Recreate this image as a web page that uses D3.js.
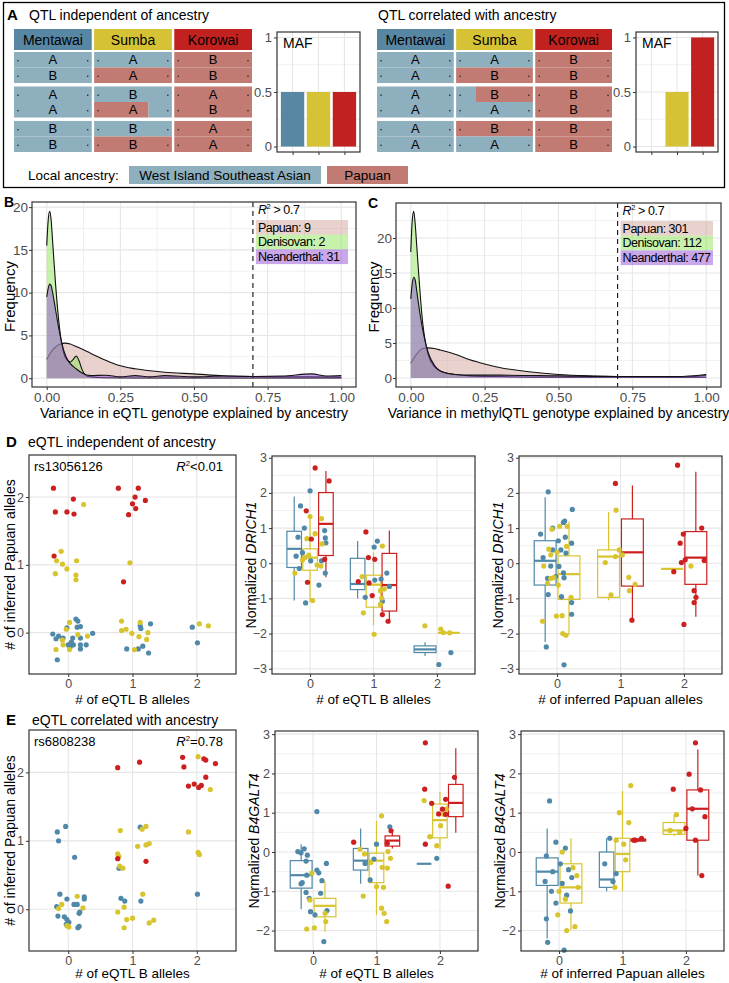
<!DOCTYPE html>
<html>
<head>
<meta charset="utf-8">
<script src="https://cdn.jsdelivr.net/npm/d3@7"></script>
<style>
  body { margin: 0; background: #fff; }
  svg text { font-family: "Liberation Sans", Arial, Helvetica, sans-serif; }
</style>
</head>
<body>
<svg id="fig" width="729" height="983"></svg>
<script>
// ---------------- data ----------------
const pops = ["Mentawai", "Sumba", "Korowai"];

// haplotype strips: [allele, ancestry of left part, ancestry of right part, break fraction]
const indepMentawai = [["A","W","W",1],["B","W","W",1],["A","W","W",1],["A","W","W",1],["B","W","W",1],["B","W","W",1]];
const indepSumba    = [["A","W","W",1],["A","P","P",1],["B","W","W",1],["A","P","W",0.7],["B","W","W",1],["B","P","P",1]];
const indepKorowai  = [["B","P","P",1],["B","P","P",1],["A","P","P",1],["B","P","P",1],["A","P","P",1],["A","P","P",1]];
const corrMentawai  = [["A","W","W",1],["A","W","W",1],["A","W","W",1],["A","W","W",1],["A","W","W",1],["A","W","W",1]];
const corrSumba     = [["A","W","W",1],["B","P","P",1],["B","W","P",0.25],["A","W","W",1],["B","P","P",1],["A","W","W",1]];
const corrKorowai   = [["B","P","P",1],["B","P","P",1],["B","P","P",1],["B","P","P",1],["B","P","P",1],["B","P","P",1]];
const mafIndep = [0.5, 0.5, 0.5];
const mafCorr  = [0, 0.5, 1];

// density curves [x, frequency]
const bPapuan = [[0,2.2],[0.02,3.3],[0.04,3.9],[0.06,4.1],[0.08,4.0],[0.10,3.7],[0.15,2.9],[0.20,2.1],[0.25,1.45],[0.30,1.1],[0.40,0.7],[0.50,0.5],[0.60,0.28],[0.70,0.2],[0.80,0.15],[0.90,0.15],[1.00,0.1]];
const bDenisovan = [[0,15.5],[0.005,18.5],[0.01,19.5],[0.015,18.5],[0.02,16],[0.03,11],[0.04,7],[0.05,4.2],[0.06,2.7],[0.07,2.1],[0.08,1.9],[0.09,2.2],[0.10,2.6],[0.11,2.0],[0.12,1.0],[0.14,0.2],[0.2,0.05],[0.3,0.03],[0.5,0.03],[0.7,0.03],[1.0,0.03]];
const bNeanderthal = [[0,9.5],[0.005,10.5],[0.01,11],[0.015,10.8],[0.02,10],[0.03,8],[0.04,6],[0.05,4.3],[0.06,3.0],[0.07,2.2],[0.08,1.7],[0.10,1.1],[0.12,0.6],[0.15,0.3],[0.2,0.35],[0.25,0.15],[0.3,0.3],[0.35,0.15],[0.4,0.3],[0.5,0.15],[0.6,0.25],[0.7,0.2],[0.8,0.25],[0.9,0.5],[0.95,0.25],[1.0,0.3]];
const cPapuan = [[0,2.1],[0.02,3.4],[0.04,4.2],[0.06,4.3],[0.08,4.2],[0.10,4.0],[0.15,3.4],[0.20,2.6],[0.25,2.0],[0.30,1.5],[0.40,0.9],[0.50,0.5],[0.60,0.3],[0.70,0.2],[0.80,0.15],[0.90,0.1],[1.00,0.4]];
const cDenisovan = [[0,18],[0.005,22.5],[0.01,23.8],[0.015,22],[0.02,19],[0.03,13],[0.04,8],[0.05,5],[0.06,3.2],[0.08,1.6],[0.10,1.0],[0.15,0.5],[0.2,0.3],[0.3,0.2],[0.5,0.1],[0.7,0.1],[1.0,0.1]];
const cNeanderthal = [[0,11.3],[0.005,13.5],[0.01,14.4],[0.015,14],[0.02,12.5],[0.03,9.5],[0.04,7],[0.05,5],[0.06,3.5],[0.08,1.8],[0.10,1.0],[0.15,0.5],[0.2,0.4],[0.3,0.4],[0.5,0.3],[0.7,0.2],[0.9,0.2],[1.0,0.5]];
const bCounts = [["Papuan", 9], ["Denisovan", 2], ["Neanderthal", 31]];
const cCounts = [["Papuan", 301], ["Denisovan", 112], ["Neanderthal", 477]];

// D: eQTL independent of ancestry (rs13056126)  [jittered x, y]
const d1Mentawai = [[-0.24,-0.02],[-0.19,-0.09],[-0.15,-0.05],[-0.08,-0.08],[-0.09,-0.1],[-0.17,-0.4],[0.0,-0.18],[0.05,-0.14],[0.03,-0.21],[0.07,-0.08],[0.12,0.2],[0.15,0.17],[0.14,0.08],[0.19,0.09],[0.19,-0.08],[0.19,-0.18],[0.19,-0.24],[0.28,-0.18],[0.38,-0.01],[-0.02,0.07],[0.08,-0.18],[1.12,0.1],[1.13,0.06],[1.28,0.13],[0.91,-0.24],[1.09,-0.24],[1.16,-0.2],[1.25,-0.3],[1.93,0.08],[2.01,-0.15]];
const d1Sumba = [[0.24,1.89],[-0.11,1.2],[-0.18,1.06],[-0.09,1.01],[-0.02,0.94],[-0.2,0.87],[0.13,1.06],[0.12,0.85],[0.12,0.78],[0.96,1.03],[0.02,0.15],[-0.03,0.05],[-0.09,-0.11],[-0.08,-0.18],[-0.19,-0.25],[0.02,-0.25],[0.15,-0.03],[0.3,-0.05],[0.83,0.17],[0.83,0.03],[0.9,0.05],[0.99,-0.01],[1.1,-0.06],[1.22,-0.1],[1.24,0.0],[1.03,-0.25],[1.12,0.15],[2.04,0.13],[2.18,0.1]];
const d1Korowai = [[-0.23,2.13],[-0.2,1.78],[0.08,1.97],[-0.02,1.78],[0.09,1.75],[-0.22,1.13],[0.78,2.13],[1.09,2.13],[1.04,2.0],[1.2,1.95],[1.0,1.9],[1.05,1.83],[0.94,1.74],[0.86,0.75]];

const d2Mentawai = [[0.0,2.06],[-0.15,1.63],[-0.09,1.0],[-0.19,0.74],[-0.22,0.2],[-0.12,0.3],[0.01,0.07],[-0.17,-0.15],[0.23,0.93],[0.24,0.72],[0.25,0.58],[0.18,0.07],[0.24,-0.28],[0.14,-0.62],[-0.07,-1.13],[1.06,0.63],[1.01,0.46],[1.02,-0.48],[1.12,-0.45],[1.21,-0.28],[1.25,-0.66],[0.87,-0.97],[1.14,-1.08],[2.22,-2.54],[2.03,-2.88]];
const d2Sumba = [[-0.24,-0.28],[-0.05,0.7],[0.0,1.33],[0.08,0.84],[0.18,1.27],[0.19,0.55],[-0.12,0.09],[-0.08,0.16],[-0.02,0.23],[0.11,-0.05],[0.17,-0.08],[0.04,-1.06],[0.82,-0.38],[1.14,0.49],[1.11,-0.78],[1.17,-0.73],[0.84,-1.41],[1.01,-2.02],[1.13,-0.99],[1.11,-1.17],[1.81,-1.78],[2.06,-1.87],[2.1,-1.97],[2.2,-1.98]];
const d2Korowai = [[0.08,2.71],[0.3,2.34],[-0.06,1.49],[0.02,0.69],[-0.04,-0.54],[0.23,0.11],[0.88,0.89],[0.92,0.16],[1.02,0.11],[0.76,-0.52],[0.93,-0.56],[1.14,-1.46],[1.23,-1.65],[0.98,-0.92]];
// [genotype, population, lower whisker, Q1, median, Q3, upper whisker]
const d2Boxes = [
  [0,"Mentawai",-1.06,-0.12,0.41,0.91,1.9],
  [0,"Sumba",-1.1,-0.2,0.16,0.41,1.3],
  [0,"Korowai",-0.4,0.22,1.12,2.01,2.62],
  [1,"Mentawai",-1.0,-0.75,-0.59,0.14,0.63],
  [1,"Sumba",-1.77,-1.25,-0.61,-0.34,0.31],
  [1,"Korowai",-1.63,-1.36,-0.62,0.28,0.93],
  [2,"Mentawai",-2.64,-2.54,-2.45,-2.35,-2.25],
  [2,"Sumba",-1.98,-1.98,-1.98,-1.98,-1.98]
];

const d3Mentawai = [[-0.14,2.03],[0.24,1.53],[0.12,1.2],[0.1,1.16],[-0.26,0.83],[-0.07,1.0],[0.02,0.64],[0.13,0.74],[0.23,0.57],[0.06,0.38],[-0.07,0.38],[-0.22,0.16],[-0.1,-0.08],[0.03,-0.09],[0.1,-0.27],[-0.15,-0.43],[-0.02,-0.38],[0.11,-0.41],[0.14,0.29],[-0.14,-0.89],[0.07,-0.95],[0.23,-1.12],[0.23,-1.45],[-0.17,-2.38],[0.11,-2.89]];
const d3Sumba = [[-0.08,0.97],[0.04,1.05],[0.16,1.05],[-0.13,0.4],[-0.1,0.24],[0.0,0.31],[0.15,0.48],[-0.21,-0.08],[-0.1,-0.43],[-0.05,-0.41],[0.02,-0.62],[-0.15,-0.57],[-0.23,-1.65],[-0.01,-1.5],[0.08,-1.49],[0.09,-2.0],[0.14,-2.05],[0.22,-0.97],[0.93,1.51],[0.98,0.38],[1.03,0.24],[0.92,0.19],[0.76,0.02],[1.13,-0.4],[1.23,-0.6],[1.14,-0.78],[0.85,-0.9],[2.11,-0.08]];
const d3Korowai = [[0.92,2.27],[1.18,-1.62],[1.9,2.79],[1.99,0.83],[2.28,1.0],[1.94,0.57],[1.96,0.02],[2.02,0.1],[2.32,0.08],[1.84,-0.24],[2.16,-0.78],[2.0,-1.74],[2.16,-1.12],[2.19,-0.97]];
const d3Boxes = [
  [0,"Mentawai",-2.24,-0.62,0.07,0.64,1.88],
  [0,"Sumba",-2.05,-1.03,-0.31,0.21,1.19],
  [1,"Sumba",-1.05,-0.97,0.19,0.38,1.46],
  [1,"Korowai",-1.62,-0.65,0.31,1.26,2.21],
  [2,"Sumba",-0.16,-0.16,-0.16,-0.16,-0.16],
  [2,"Korowai",-1.52,-0.6,0.16,0.9,2.6]
];

// E: eQTL correlated with ancestry (rs6808238)
const e1Mentawai = [[-0.17,1.13],[-0.15,1.0],[-0.04,1.21],[0.1,0.76],[-0.13,0.22],[-0.02,0.15],[0.25,0.18],[0.25,0.15],[0.09,0.07],[0.14,0.07],[-0.18,0.04],[0.18,-0.04],[0.17,-0.06],[-0.16,-0.1],[-0.06,-0.11],[-0.02,-0.15],[0.01,-0.19],[-0.03,-0.22],[0.17,-0.25],[0.15,-0.27],[0.79,0.6],[1.12,1.2],[0.82,0.16],[0.88,0.12],[1.13,0.12],[2.01,0.22]];
const e1Sumba = [[0.14,0.19],[-0.1,0.07],[-0.15,0.01],[0.23,0.02],[-0.02,-0.24],[0.01,-0.26],[0.81,1.15],[0.77,0.81],[0.79,0.77],[0.8,0.63],[0.85,0.6],[1.15,1.17],[1.21,1.21],[1.21,0.94],[1.26,0.96],[1.08,0.92],[1.16,0.22],[0.87,0.03],[0.77,-0.04],[0.91,-0.15],[1.0,-0.13],[1.33,-0.16],[1.26,-0.2],[0.87,-0.27],[2.02,2.23],[2.21,1.75],[1.87,1.13],[2.02,0.83],[2.04,0.8]];
const e1Korowai = [[0.77,2.07],[1.11,2.15],[1.78,2.22],[1.8,2.08],[2.11,2.2],[2.14,2.18],[2.29,2.13],[2.14,1.93],[1.96,1.83],[1.87,1.8],[2.03,1.78],[2.07,1.81],[0.77,0.74],[1.21,0.7]];

const e2Mentawai = [[-0.24,0.01],[-0.19,-0.02],[-0.14,0.08],[-0.11,-0.23],[-0.09,-0.08],[0.06,1.03],[0.21,-0.29],[0.06,-0.46],[0.09,-0.53],[0.14,-0.73],[-0.1,-0.59],[-0.17,-0.78],[-0.19,-0.81],[-0.11,-1.03],[-0.06,-1.18],[0.12,-1.05],[-0.04,-1.52],[0.03,-1.6],[0.17,-2.28],[0.22,-1.49],[1.0,0.2],[0.82,-0.29],[0.9,-0.71],[0.96,-0.18],[1.21,0.64],[1.95,-0.16]];
const e2Sumba = [[-0.02,-0.54],[-0.05,-1.22],[-0.1,-1.96],[0.02,-1.93],[0.2,-1.77],[0.19,-1.56],[0.74,0.07],[0.81,-0.05],[1.08,0.92],[0.91,-0.27],[1.0,-0.88],[1.11,-0.9],[1.09,-0.39],[1.17,-0.41],[1.18,0.01],[1.08,-1.43],[1.12,-1.56],[1.16,-1.77],[0.79,-1.12],[1.22,-0.16],[1.75,1.31],[1.84,0.39],[1.95,0.16],[2.01,0.67],[2.06,0.96],[2.1,1.09]];
const e2Korowai = [[0.64,0.25],[1.23,0.54],[1.17,0.22],[1.76,1.6],[1.87,1.24],[1.77,0.2],[1.98,0.97],[2.04,1.09],[2.09,0.96],[2.09,1.34],[2.13,-0.87],[1.77,2.78],[2.23,1.9]];
const e2Boxes = [
  [0,"Mentawai",-1.46,-0.92,-0.59,-0.22,0.2],
  [0,"Sumba",-2.03,-1.65,-1.37,-1.18,-0.74],
  [1,"Mentawai",-0.81,-0.46,-0.22,0.09,0.6],
  [1,"Sumba",-1.6,-0.78,-0.22,-0.03,0.79],
  [1,"Korowai",0.09,0.15,0.29,0.41,0.56],
  [2,"Mentawai",-0.3,-0.3,-0.3,-0.3,-0.3],
  [2,"Sumba",0.07,0.36,0.81,1.22,1.53],
  [2,"Korowai",0.49,0.9,1.25,1.72,2.64]
];

const e3Mentawai = [[-0.15,1.3],[-0.05,0.25],[0.1,0.1],[-0.2,-0.1],[0.02,-0.3],[-0.1,-0.5],[0.15,-0.45],[-0.22,-0.75],[0.05,-0.8],[0.2,-0.65],[-0.12,-1.0],[0.12,-1.1],[-0.05,-1.3],[0.18,-1.5],[-0.2,-1.7],[-0.18,-2.3],[0.08,-2.5],[0.8,0.35],[0.72,-0.3],[0.85,-0.75],[0.9,-0.55]];
const e3Sumba = [[0.05,0.0],[0.22,-0.4],[0.3,-0.9],[0.1,-1.2],[-0.02,-1.6],[0.25,-1.9],[0.12,-2.0],[0.28,-0.6],[0.0,-1.0],[0.95,1.0],[0.9,0.3],[1.05,-0.2],[1.1,0.75],[0.88,-0.9],[1.13,1.69],[1.02,0.2],[1.75,0.55],[1.85,0.95],[1.9,0.5]];
const e3Korowai = [[1.2,0.3],[1.3,0.35],[1.18,0.3],[1.8,1.6],[2.05,1.98],[2.15,2.78],[2.23,1.58],[2.1,1.1],[2.3,0.9],[2.0,0.6],[2.15,0.3],[2.25,-0.6]];
const e3Boxes = [
  [0,"Mentawai",-2.2,-0.85,-0.5,-0.15,0.6],
  [0,"Sumba",-2.0,-1.3,-0.9,-0.3,0.35],
  [1,"Mentawai",-1.0,-0.9,-0.7,0.0,0.35],
  [1,"Sumba",-1.0,-0.5,-0.05,0.35,1.55],
  [1,"Korowai",0.27,0.28,0.3,0.33,0.35],
  [2,"Sumba",0.4,0.45,0.55,0.75,0.95],
  [2,"Korowai",-0.6,0.3,1.1,1.58,2.61]
];

// ---------------- styles ----------------
const headerColor = { Mentawai: "#5787a3", Sumba: "#d5c335", Korowai: "#c1221f" };
const dotColor = { Mentawai: "#4f88a8", Sumba: "#d8c42e", Korowai: "#cc1f1f" };
const ancColor = { W: "#8eafbe", P: "#c27b72" };
const archaicColor = { Papuan: "#d3a39c", Denisovan: "#8ee659", Neanderthal: "#9350d5" };
const gridCol = "#e6e6e6";
const tickCol = "#4d4d4d";

const svg = d3.select("#fig");

// ---------------- helpers ----------------
function scales(box, xDom, yDom) {
  return {
    x: d3.scaleLinear().domain(xDom).range([box.l, box.r]),
    y: d3.scaleLinear().domain(yDom).range([box.b, box.t])
  };
}

function grid(box, x, y, xs, ys, w) {
  const g = svg.append("g");
  g.selectAll(".gx").data(xs).join("line")
    .attr("x1", d => x(d)).attr("x2", d => x(d))
    .attr("y1", box.t).attr("y2", box.b)
    .attr("stroke", gridCol).attr("stroke-width", w);
  g.selectAll(".gy").data(ys).join("line")
    .attr("x1", box.l).attr("x2", box.r)
    .attr("y1", d => y(d)).attr("y2", d => y(d))
    .attr("stroke", gridCol).attr("stroke-width", w);
}

function axes(box, x, y, xTicks, yTicks, xFmt, yFmt, size, pad = 2) {
  if (xTicks) {
    const ax = svg.append("g").attr("transform", `translate(0,${box.b})`)
      .call(d3.axisBottom(x).tickValues(xTicks).tickSize(3).tickPadding(2).tickFormat(xFmt));
    ax.select(".domain").remove();
    ax.selectAll("line").attr("stroke", "#333");
    ax.selectAll("text").attr("fill", tickCol).attr("font-size", size).attr("font-family", null);
  }
  const ay = svg.append("g").attr("transform", `translate(${box.l},0)`)
    .call(d3.axisLeft(y).tickValues(yTicks).tickSize(3).tickPadding(pad).tickFormat(yFmt));
  ay.select(".domain").remove();
  ay.selectAll("line").attr("stroke", "#333");
  ay.selectAll("text").attr("fill", tickCol).attr("font-size", size).attr("font-family", null);
}

function frame(box) {
  svg.append("rect")
    .attr("x", box.l).attr("y", box.t)
    .attr("width", box.r - box.l).attr("height", box.b - box.t)
    .attr("fill", "none").attr("stroke", "#333").attr("stroke-width", 1.2);
}

function label(x, y, txt, size, opts = {}) {
  const t = svg.append("text").attr("x", x).attr("y", y)
    .attr("font-size", size).attr("fill", opts.fill || "#000")
    .attr("text-anchor", opts.anchor || "start")
    .text(txt);
  if (opts.bold) t.attr("font-weight", "bold");
  return t;
}

function yTitle(x, yc, parts, size) {
  const t = svg.append("text")
    .attr("transform", `translate(${x},${yc}) rotate(-90)`)
    .attr("text-anchor", "middle").attr("font-size", size).attr("fill", "#000");
  parts.forEach(p => t.append("tspan").attr("font-style", p[1] ? "italic" : null).text(p[0]));
}

function r2Text(x, y, rest, size, anchor) {
  const t = svg.append("text").attr("x", x).attr("y", y)
    .attr("font-size", size).attr("text-anchor", anchor || "start");
  t.append("tspan").attr("font-style", "italic").text("R");
  t.append("tspan").attr("font-size", size * 0.6).attr("dy", -5).text("2");
  t.append("tspan").attr("dy", 5).text(rest);
  return t;
}

// ---------------- panel A ----------------
svg.append("rect").attr("x", 3.5).attr("y", 2.5).attr("width", 721).attr("height", 185)
  .attr("fill", "none").attr("stroke", "#000").attr("stroke-width", 1.3);
label(7, 20, "A", 15, { bold: true });

function haplotypes(x0, x1, titleX, title, strips, maf, mafL, mafR) {
  label(titleX, 20, title, 14);
  const col = d3.scaleBand().domain(pops).range([x0, x1]).paddingInner(0.03);
  const ind = d3.scaleBand().domain([0, 1, 2]).range([52, 152]).paddingInner(0.1);
  pops.forEach((p, pi) => {
    svg.append("rect").attr("x", col(p)).attr("y", 29)
      .attr("width", col.bandwidth()).attr("height", 21).attr("fill", headerColor[p]);
    label(col(p) + col.bandwidth() / 2, 44.5, p, 14, { anchor: "middle" });
    strips[pi].forEach((s, si) => {
      const i = Math.floor(si / 2), h = si % 2;
      const sh = ind.bandwidth() / 2;
      const yy = ind(i) + h * sh;
      const xx = col(p), w = col.bandwidth();
      svg.append("rect").attr("x", xx).attr("y", yy).attr("width", w * s[3]).attr("height", sh)
        .attr("fill", ancColor[s[1]]);
      if (s[3] < 1) {
        svg.append("rect").attr("x", xx + w * s[3]).attr("y", yy).attr("width", w * (1 - s[3])).attr("height", sh)
          .attr("fill", ancColor[s[2]]);
      }
      label(xx + w / 2, yy + sh / 2 + 4.5, s[0], 13, { anchor: "middle" });
      [xx + 4, xx + w - 4].forEach(cx => svg.append("circle").attr("cx", cx).attr("cy", yy + sh / 2 + 1)
        .attr("r", 0.8).attr("fill", "#222"));
    });
  });
  // MAF bar plot
  const box = { l: mafL, r: mafR, t: 32, b: 152 };
  const s = scales(box, [0.4, 3.6], [-0.05, 1.05]);
  grid(box, s.x, s.y, [], [0.25, 0.75], 0.6);
  grid(box, s.x, s.y, [1, 2, 3], [0, 0.5, 1], 1.1);
  svg.append("g").selectAll("rect").data(maf).join("rect")
    .attr("x", (d, i) => s.x(i + 1 - 0.45))
    .attr("width", s.x(1.9) - s.x(1))
    .attr("y", d => s.y(d))
    .attr("height", d => s.y(0) - s.y(d))
    .attr("fill", (d, i) => headerColor[pops[i]]);
  axes(box, s.x, s.y, [1, 2, 3], [0, 0.5, 1], () => "", d => d === 0.5 ? "0.5" : d3.format("d")(d), 13);
  frame(box);
  label(mafL + 6, 48, "MAF", 14);
}

haplotypes(14, 252, 29, "QTL independent of ancestry", [indepMentawai, indepSumba, indepKorowai], mafIndep, 277, 360);
haplotypes(377, 612, 378, "QTL correlated with ancestry", [corrMentawai, corrSumba, corrKorowai], mafCorr, 636, 718);

// local ancestry legend
label(28, 180, "Local ancestry:", 13.5);
[["W", "West Island Southeast Asian", 129, 321], ["P", "Papuan", 327, 408]].forEach(l => {
  svg.append("rect").attr("x", l[2]).attr("y", 166).attr("width", l[3] - l[2]).attr("height", 18)
    .attr("fill", ancColor[l[0]]);
  label((l[2] + l[3]) / 2, 180, l[1], 13.5, { anchor: "middle" });
});

// ---------------- panels B and C ----------------
function densityPanel(letter, box, yDom, curves, counts, xTitle) {
  const s = scales(box, [-0.05, 1.05], yDom);
  const xMinor = [0.125, 0.375, 0.625, 0.875];
  const yMinor = [2.5, 7.5, 12.5, 17.5, 22.5].filter(v => v < yDom[1]);
  grid(box, s.x, s.y, xMinor, yMinor, 0.6);
  grid(box, s.x, s.y, [0, 0.25, 0.5, 0.75, 1], [0, 5, 10, 15, 20], 1.1);
  const area = d3.area().x(d => s.x(d[0])).y0(s.y(0)).y1(d => s.y(d[1])).curve(d3.curveMonotoneX);
  const line = d3.line().x(d => s.x(d[0])).y(d => s.y(d[1])).curve(d3.curveMonotoneX);
  curves.forEach(c => {
    svg.append("path").datum(c[1]).attr("d", area)
      .attr("fill", archaicColor[c[0]]).attr("fill-opacity", 0.5);
    svg.append("path").datum(c[1]).attr("d", line)
      .attr("fill", "none").attr("stroke", "#111").attr("stroke-width", 1.1);
  });
  svg.append("line").attr("x1", s.x(0.7)).attr("x2", s.x(0.7))
    .attr("y1", box.t).attr("y2", box.b)
    .attr("stroke", "#222").attr("stroke-width", 1.2).attr("stroke-dasharray", "5,4");
  const lx = s.x(0.7) + 3;
  r2Text(lx + 2, box.t + 12, " > 0.7", 12.5).attr("letter-spacing", -0.4);
  counts.forEach((c, i) => {
    svg.append("rect").attr("x", lx).attr("y", box.t + 18 + i * 14.7)
      .attr("width", box.r - 8 - lx).attr("height", 14.7)
      .attr("fill", archaicColor[c[0]]).attr("fill-opacity", 0.5);
    label(lx + 2, box.t + 29.5 + i * 14.7, `${c[0]}: ${c[1]}`, 12.5).attr("letter-spacing", -0.5);
  });
  axes(box, s.x, s.y, [0, 0.25, 0.5, 0.75, 1], [0, 5, 10, 15, 20], d3.format(".2f"), d3.format("d"), 13.5, 1);
  frame(box);
  label(box.l - 28, box.t + 5, letter, 14, { bold: true });
  yTitle(box.l - 17, (box.t + box.b) / 2 + 2, [["Frequency", false]], 15);
  label((box.l + box.r) / 2, box.b + 31, xTitle, 14, { anchor: "middle" });
}

densityPanel("B", { l: 32, r: 356, t: 202, b: 387 }, [-1.03, 20.6],
  [["Papuan", bPapuan], ["Denisovan", bDenisovan], ["Neanderthal", bNeanderthal]], bCounts,
  "Variance in eQTL genotype explained by ancestry");
densityPanel("C", { l: 396, r: 721, t: 203, b: 387 }, [-1.29, 25],
  [["Papuan", cPapuan], ["Denisovan", cDenisovan], ["Neanderthal", cNeanderthal]], cCounts,
  "Variance in methylQTL genotype explained by ancestry");

// ---------------- panels D and E ----------------
function dots(s, sets) {
  pops.forEach((p, i) => {
    svg.append("g").selectAll("circle").data(sets[i]).join("circle")
      .attr("cx", d => s.x(d[0])).attr("cy", d => s.y(d[1]))
      .attr("r", 2.6).attr("fill", dotColor[p]);
  });
}

function boxes(s, stats) {
  const byGeno = d3.group(stats, d => d[0]);
  const g = svg.append("g").attr("fill", "none");
  stats.forEach(d => {
    const members = byGeno.get(d[0]);
    const n = members.length, i = members.indexOf(d);
    const slot = 0.75 / n;
    const c = d[0] - 0.375 + slot * (i + 0.5);
    const hw = slot * 0.46;
    const col = dotColor[d[1]];
    g.append("line").attr("x1", s.x(c)).attr("x2", s.x(c)).attr("y1", s.y(d[2])).attr("y2", s.y(d[3]))
      .attr("stroke", col).attr("stroke-width", 1.2);
    g.append("line").attr("x1", s.x(c)).attr("x2", s.x(c)).attr("y1", s.y(d[5])).attr("y2", s.y(d[6]))
      .attr("stroke", col).attr("stroke-width", 1.2);
    g.append("rect").attr("x", s.x(c - hw)).attr("width", s.x(c + hw) - s.x(c - hw))
      .attr("y", s.y(d[5])).attr("height", Math.max(0, s.y(d[3]) - s.y(d[5])))
      .attr("stroke", col).attr("stroke-width", 1.2);
    g.append("line").attr("x1", s.x(c - hw)).attr("x2", s.x(c + hw)).attr("y1", s.y(d[4])).attr("y2", s.y(d[4]))
      .attr("stroke", col).attr("stroke-width", 2.2);
  });
}

function scatterPanel(box, sets, snp, r2, xTitle, titleGap) {
  const s = scales(box, [-0.61, 2.61], [-0.61, 2.62]);
  grid(box, s.x, s.y, [0, 1, 2], [0, 1, 2], 1.1);
  dots(s, sets);
  axes(box, s.x, s.y, [0, 1, 2], [0, 1, 2], d3.format("d"), d3.format("d"), 12.5);
  frame(box);
  label(box.l + 5, box.t + 16, snp, 13);
  r2Text(box.r - 13, box.t + 16, r2, 13, "end");
  yTitle(box.l - 14, (box.t + box.b) / 2, [["# of inferred Papuan alleles", false]], 14);
  label((box.l + box.r) / 2, box.b + titleGap, xTitle, 13.5, { anchor: "middle" });
}

function boxPanel(box, yDom, stats, sets, gene, xTitle, titleGap) {
  const s = scales(box, [-0.6, 2.6], yDom);
  const yMajor = d3.range(Math.ceil(yDom[0]), Math.floor(yDom[1]) + 1);
  const yMinor = yMajor.map(v => v + 0.5).concat([yMajor[0] - 0.5]).filter(v => v > yDom[0] && v < yDom[1]);
  grid(box, s.x, s.y, [], yMinor, 0.6);
  grid(box, s.x, s.y, [0, 1, 2], yMajor, 1.1);
  boxes(s, stats);
  dots(s, sets);
  axes(box, s.x, s.y, [0, 1, 2], yMajor, d3.format("d"), d3.format("d"), 12.5);
  frame(box);
  yTitle(box.l - 16, (box.t + box.b) / 2, [["Normalized ", false], [gene, true]], 14);
  label((box.l + box.r) / 2, box.b + titleGap, xTitle, 13.5, { anchor: "middle" });
}

// D
label(6, 447, "D", 15, { bold: true });
label(28, 447, "eQTL independent of ancestry", 14);
scatterPanel({ l: 29, r: 236, t: 455, b: 674 }, [d1Mentawai, d1Sumba, d1Korowai], "rs13056126", "<0.01", "# of eQTL B alleles", 30);
boxPanel({ l: 272, r: 475, t: 456, b: 674 }, [-3.15, 3.05], d2Boxes, [d2Mentawai, d2Sumba, d2Korowai], "DRICH1", "# of eQTL B alleles", 30);
boxPanel({ l: 519, r: 722, t: 456, b: 674 }, [-3.15, 3.05], d3Boxes, [d3Mentawai, d3Sumba, d3Korowai], "DRICH1", "# of inferred Papuan alleles", 30);

// E
label(6, 725, "E", 15, { bold: true });
label(32, 725, "eQTL correlated with ancestry", 14);
scatterPanel({ l: 29, r: 236, t: 730, b: 951 }, [e1Mentawai, e1Sumba, e1Korowai], "rs6808238", "=0.78", "# of eQTL B alleles", 27);
boxPanel({ l: 275, r: 478, t: 731, b: 951 }, [-2.52, 3.08], e2Boxes, [e2Mentawai, e2Sumba, e2Korowai], "B4GALT4", "# of eQTL B alleles", 27);
boxPanel({ l: 521, r: 724, t: 731, b: 951 }, [-2.52, 3.08], e3Boxes, [e3Mentawai, e3Sumba, e3Korowai], "B4GALT4", "# of inferred Papuan alleles", 27);
</script>
</body>
</html>
